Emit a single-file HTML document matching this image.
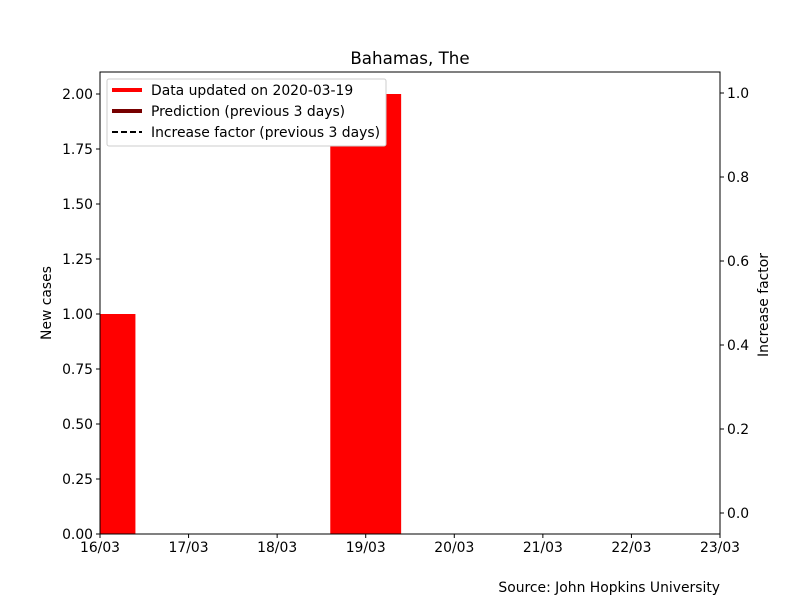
<!DOCTYPE html>
<html><head><meta charset="utf-8"><style>
body{margin:0;background:#fff}
svg text{font-family:"DejaVu Sans","Liberation Sans",sans-serif;font-size:13.9px;fill:#000}
</style></head><body>
<svg id="chart" width="800" height="600" xmlns="http://www.w3.org/2000/svg">
<rect width="800" height="600" fill="#fff"/>
<text x="410" y="64" text-anchor="middle" style="font-size:16.7px">Bahamas, The</text>
<g id="bars"></g>
<g id="axes"></g>
<rect x="100" y="72" width="620" height="462" fill="none" stroke="#000" stroke-width="1"/>
<text transform="translate(51,303) rotate(-90)" text-anchor="middle">New cases</text>
<text transform="translate(768,305) rotate(-90)" text-anchor="middle">Increase factor</text>
<text x="720" y="592" text-anchor="end">Source: John Hopkins University</text>
<g>
<rect x="107" y="79" width="279" height="67" rx="2" fill="#fff" stroke="#ccc"/>
<line x1="112" y1="90" x2="142" y2="90" stroke="#f00" stroke-width="4"/>
<text x="151" y="95">Data updated on 2020-03-19</text>
<line x1="112" y1="111" x2="142" y2="111" stroke="#700" stroke-width="4"/>
<text x="151" y="116">Prediction (previous 3 days)</text>
<line x1="112" y1="132" x2="142" y2="132" stroke="#000" stroke-width="2" stroke-dasharray="6,3"/>
<text x="151" y="137">Increase factor (previous 3 days)</text>
</g>
</svg>
<script>
const days = [16, 17, 18, 19];
const newCases = [1, 0, 0, 2];
const xTickLabels = ["16/03","17/03","18/03","19/03","20/03","21/03","22/03","23/03"];
const yTicks = [0,0.25,0.5,0.75,1.0,1.25,1.5,1.75,2.0];
const y2Ticks = [0.0,0.2,0.4,0.6,0.8,1.0];
const NS="http://www.w3.org/2000/svg";
const X0=100,X1=720,Y0=534,Y1=72;
const xs=d=>X0+(d-16)/7*(X1-X0);
const ys=v=>Y0-v/2.1*(Y0-Y1);
const y2s=v=>Y0-(v+0.05)/1.1*(Y0-Y1);
function mk(t,a){const e=document.createElementNS(NS,t);for(const k in a)e.setAttribute(k,a[k]);return e;}
const bars=document.getElementById('bars'),axes=document.getElementById('axes');
days.forEach((d,i)=>{
 let l=Math.max(X0,xs(d-0.4)),r=xs(d+0.4);
 const b=mk('rect',{x:l,y:ys(newCases[i]),width:r-l,height:Y0-ys(newCases[i]),fill:'#f00'});
 
 
 bars.appendChild(b);
});
xTickLabels.forEach((lab,i)=>{
 const x=xs(16+i);
 axes.appendChild(mk('line',{x1:x,y1:Y0,x2:x,y2:Y0+4,stroke:'#000'}));
 const t=mk('text',{x:x,y:Y0+18,'text-anchor':'middle'});t.textContent=lab;
 
 
 axes.appendChild(t);
});
yTicks.forEach(v=>{
 const y=ys(v);
 axes.appendChild(mk('line',{x1:X0-4,y1:y,x2:X0,y2:y,stroke:'#000'}));
 const t=mk('text',{x:X0-7,y:y+5,'text-anchor':'end'});t.textContent=v.toFixed(2);
 
 
 axes.appendChild(t);
});
y2Ticks.forEach(v=>{
 const y=y2s(v);
 axes.appendChild(mk('line',{x1:X1,y1:y,x2:X1+4,y2:y,stroke:'#000'}));
 const t=mk('text',{x:X1+7,y:y+5});t.textContent=v.toFixed(1);
 
 
 axes.appendChild(t);
});
</script>
</body></html>
